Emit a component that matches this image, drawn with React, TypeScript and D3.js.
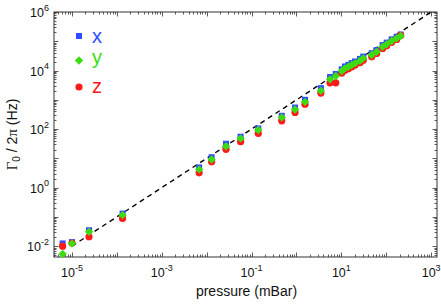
import * as d3 from 'd3';

// pressure values (mBar), shared by the three axes
const pressure = [
  6.2e-6, 1.0e-5, 2.4e-5, 1.34e-4, 6.8e-3, 0.0129, 0.027, 0.057, 0.141, 0.47,
  0.93, 1.55, 3.5, 5.6, 7.5, 10.2, 12.0, 14.3, 17.0, 20.1, 26, 30.7, 47.3, 61,
  83, 102, 132, 170, 209,
];

// damping rate Gamma_0 / 2pi (Hz)
const gammaX = [
  0.0124, 0.0138, 0.035, 0.13, 4.9, 10.9, 31.6, 55, 105, 284, 545, 1000, 2500,
  6000, 7600, 11000, 13800, 15600, 17900, 20400, 25000, 30000, 39000, 50000,
  74000, 90000, 116000, 143000, 170000,
];
const gammaY = [
  0.0054, 0.0123, 0.031, 0.115, 4.2, 9.1, 26, 48, 93, 251, 468, 850, 2040,
  5000, 6500, 9600, 11900, 13500, 15400, 17600, 21600, 26100, 33900, 44000,
  65000, 78700, 102000, 126000, 151000,
];
const gammaZ = [
  0.01, 0.0128, 0.021, 0.089, 3.2, 7.6, 20.4, 37, 71, 191, 370, 710, 1700,
  3800, 3800, 8200, 10200, 11600, 13200, 15200, 18600, 22500, 29500, 38500,
  57000, 70000, 92000, 116000, 158000,
];

// reference line Gamma = 1e3 * p
const fitP = [1e-5, 1e3];
const fitG = [1e-2, 1e6];

const xLabelExps = [-5, -3, -1, 1, 3];
const yLabelExps = [-2, 0, 2, 4, 6];

const legendNames = ['x', 'y', 'z'];
const BLUE = '#2f4dff';
const GREEN = '#3ddc12';
const RED = '#ff1a1a';
const legendColors = [BLUE, GREEN, RED];

const W = 441;
const H = 305;
const left = 54, right = 437, top = 12, bottom = 257;

const App = () => {
  const x = d3.scaleLog().domain([10 ** -5.4, 10 ** 3.13]).range([left, right]);
  const y = d3.scaleLog().domain([10 ** -2.37, 1e6]).range([bottom, top]);

  const isMajor = (v: number) => Math.abs(Math.log10(v) - Math.round(Math.log10(v))) < 1e-6;

  const xTicks = x.ticks();
  const yTicks = y.ticks();

  const fitLine = d3
    .line<number>()
    .x((_, i) => x(fitP[i]))
    .y((d) => y(d));

  // square-ish diamond, like the matlab 'd' marker
  const dr = 4.2;
  const diamond = `M0,${-dr}L${dr},0L0,${dr}L${-dr},0Z`;
  const square = 6;
  const rad = 3.6;

  const axisColor = '#333';
  const font = 'Liberation Sans, Arial, Helvetica, sans-serif';

  return (
    <svg width={W} height={H} style={{ position: 'absolute', left: 0, top: 0, background: '#fff' }}>
      {/* box */}
      <rect x={left} y={top} width={right - left} height={bottom - top} fill="none" stroke={axisColor} strokeWidth={1} />

      {/* x ticks, inward on bottom and top */}
      {xTicks.map((t, i) => {
        const len = isMajor(t) ? 4.5 : 2.5;
        const px = Math.round(x(t)) + 0.5;
        return (
          <g key={'xt' + i} stroke={axisColor} strokeWidth={0.8}>
            <line x1={px} x2={px} y1={bottom} y2={bottom - len} />
            <line x1={px} x2={px} y1={top} y2={top + len} />
          </g>
        );
      })}
      {/* y ticks, inward on left and right */}
      {yTicks.map((t, i) => {
        const len = isMajor(t) ? 4.5 : 2.5;
        const py = Math.round(y(t)) + 0.5;
        return (
          <g key={'yt' + i} stroke={axisColor} strokeWidth={0.8}>
            <line x1={left} x2={left + len} y1={py} y2={py} />
            <line x1={right} x2={right - len} y1={py} y2={py} />
          </g>
        );
      })}

      {/* tick labels */}
      {xLabelExps.map((e) => (
        <text key={'xl' + e} x={x(10 ** e)} y={277} textAnchor="middle" fontFamily={font} fontSize={12.5} fill="#111">
          10<tspan dy={-6.5} fontSize={9}>{e}</tspan>
        </text>
      ))}
      {yLabelExps.map((e) => (
        <text key={'yl' + e} x={49} y={y(10 ** e) + 5} textAnchor="end" fontFamily={font} fontSize={12.5} fill="#111">
          10<tspan dy={-6.5} fontSize={9}>{e}</tspan>
        </text>
      ))}

      {/* axis titles */}
      <text x={(left + right) / 2 + 1} y={296} textAnchor="middle" fontFamily={font} fontSize={14} fill="#111">
        pressure (mBar)
      </text>
      <text transform={`translate(17,${(top + bottom) / 2}) rotate(-90)`} textAnchor="middle" fontFamily={font} fontSize={14} fill="#111">
        <tspan fontFamily="Liberation Serif, Times New Roman, serif" fontSize={15}>Γ</tspan>
        <tspan fontSize={10} dy={3}>0</tspan>
        <tspan dy={-3}> / 2</tspan>
        <tspan fontFamily="Liberation Serif, Times New Roman, serif" fontSize={15}>π</tspan>
        <tspan>  (Hz)</tspan>
      </text>

      {/* dashed reference line */}
      <path d={fitLine(fitG) ?? ''} fill="none" stroke="#000" strokeWidth={1.4} strokeDasharray="5,4" />

      {/* data: x (blue squares), z (red circles), y (green diamonds) */}
      {pressure.map((p, i) => (
        <rect key={'bx' + i} x={x(p) - square / 2} y={y(gammaX[i]) - square / 2} width={square} height={square} fill={BLUE} />
      ))}
      {pressure.map((p, i) => (
        <circle key={'rz' + i} cx={x(p)} cy={y(gammaZ[i])} r={rad} fill={RED} />
      ))}
      {pressure.map((p, i) => (
        <path key={'gy' + i} d={diamond} transform={`translate(${x(p)},${y(gammaY[i])})`} fill={GREEN} />
      ))}

      {/* legend */}
      {legendNames.map((n, i) => {
        const cy = [36, 60.5, 87][i];
        const c = legendColors[i];
        return (
          <g key={'lg' + n}>
            {i === 0 && <rect x={79 - square / 2} y={cy - square / 2} width={square} height={square} fill={c} />}
            {i === 1 && <path d={diamond} transform={`translate(79,${cy})`} fill={c} />}
            {i === 2 && <circle cx={79} cy={cy} r={rad} fill={c} />}
            <text x={92} y={[42.5, 63.5, 93][i]} fontFamily={font} fontSize={20} fill={c}>
              {n}
            </text>
          </g>
        );
      })}
    </svg>
  );
};

export default App;
